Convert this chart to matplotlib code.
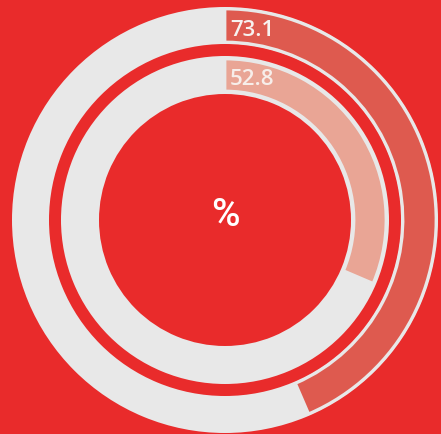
import matplotlib
matplotlib.use("Agg")
import matplotlib.pyplot as plt

# ── Données ──────────────────────────────────────────────────────────────────
series_labels = ["73.1", "52.8"]
series_values = [73.1, 52.8]
max_value = 168.0          # échelle complète d'un anneau
center_label = "%"

# ── Style ────────────────────────────────────────────────────────────────────
BG = "#E92B2B"
TRACK = "#E8E8E8"
ARC_COLORS = ["#DE5A4F", "#E9A595"]
TEXT_COLORS = ["#F7F2F0", "#F7EEEA"]
W, H = 441, 434
CX, CY = 225, H - 220
# (rayon extérieur piste, largeur piste, rayon arc, largeur arc)
RINGS = [(213, 37, 211, 33), (164, 38, 161, 32)]

plt.rcParams["font.family"] = ["Open Sans", "DejaVu Sans"]

fig = plt.figure(figsize=(W / 100, H / 100), dpi=100, facecolor=BG)
ax = fig.add_axes([0, 0, 1, 1])
ax.set_facecolor(BG)

for (r_t, w_t, r_a, w_a), val, col, lab, tcol in zip(
        RINGS, series_values, ARC_COLORS, series_labels, TEXT_COLORS):
    # piste grise complète
    ax.pie([max_value], radius=r_t, center=(CX, CY), colors=[TRACK],
           startangle=90, counterclock=False,
           wedgeprops=dict(width=w_t, linewidth=0))
    # arc de valeur
    wedges, _ = ax.pie([val, max_value - val], radius=r_a, center=(CX, CY),
                       colors=[col, "none"], startangle=90, counterclock=False,
                       wedgeprops=dict(width=w_a, linewidth=2, edgecolor=TRACK))
    wedges[1].set_edgecolor("none")
    r_mid = r_a - w_a / 2
    ax.text(CX + 5, CY + r_mid - 10, lab, color=tcol, fontsize=16,
            fontweight="semibold", ha="left", va="baseline")

ax.text(CX, CY + 5, center_label, color="white", fontsize=28,
        fontweight="medium", family=["Roboto", "DejaVu Sans"],
        ha="center", va="center")

ax.set_xlim(0, W)
ax.set_ylim(0, H)
ax.set_aspect("equal")
ax.axis("off")

plt.savefig("out.png", dpi=100, facecolor=BG)
